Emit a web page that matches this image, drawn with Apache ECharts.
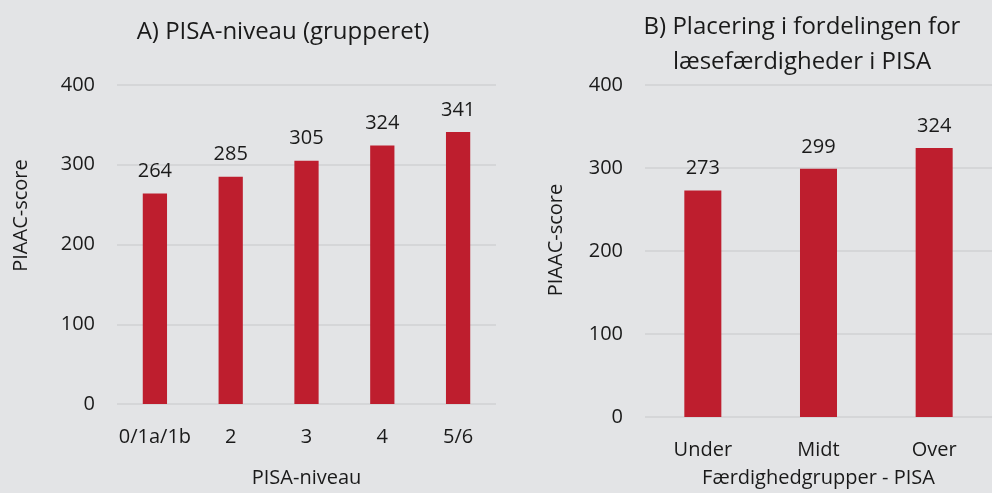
<!DOCTYPE html>
<html>
<head>
<meta charset="utf-8">
<script src="https://cdn.jsdelivr.net/npm/echarts@6/dist/echarts.min.js"></script>
<style>
  html, body { margin: 0; padding: 0; background: #e3e4e6; }
  #chart { width: 992px; height: 493px; }
</style>
</head>
<body>
<div id="chart"></div>
<script>
// panel A: PISA level (grouped)
const levelsA = ['0/1a/1b', '2', '3', '4', '5/6'];
const scoresA = [264, 285, 305, 324, 341];
// panel B: placement in reading distribution
const groupsB = ['Under', 'Midt', 'Over'];
const scoresB = [273, 299, 324];

const barColor = '#be1e2e';
const textColor = '#1a1a1a';
const font = 'Open Sans';

const chart = echarts.init(document.getElementById('chart'));

function yAxisFor(idx, gap, pad) {
    return {
        gridIndex: idx,
        type: 'value',
        min: 0,
        max: 400,
        interval: 100,
        name: 'PIAAC-score',
        nameLocation: 'middle',
        nameGap: gap,
        nameTextStyle: { fontSize: 20, color: textColor, fontFamily: font, padding: [0, 0, 0, pad] },
        axisLine: { show: false },
        axisTick: { show: false },
        axisLabel: { fontSize: 20, color: textColor, fontFamily: font, margin: 22 },
        splitLine: { lineStyle: { color: '#d5d6d8', width: 2 } }
    };
}

function xAxisFor(idx, cats, name, gap) {
    return {
        gridIndex: idx,
        type: 'category',
        data: cats,
        name: name,
        nameLocation: 'middle',
        nameGap: gap,
        nameTextStyle: { fontSize: 20, color: textColor, fontFamily: font },
        axisLine: { show: false },
        axisTick: { show: false },
        axisLabel: { interval: 0, fontSize: 20, color: textColor, fontFamily: font, margin: 23 }
    };
}

function barSeries(idx, vals) {
    return {
        type: 'bar',
        xAxisIndex: idx,
        yAxisIndex: idx,
        data: vals,
        barWidth: '32%',
        itemStyle: { color: barColor },
        label: {
            show: true,
            position: 'top',
            distance: 12,
            fontSize: 20,
            color: textColor,
            fontFamily: font
        }
    };
}

const option = {
    backgroundColor: '#e3e4e6',
    animation: false,
    title: [{
        text: 'A) PISA-niveau (grupperet)',
        left: 278,
        top: 12,
        textAlign: 'center',
        textStyle: { fontSize: 24, fontWeight: 'normal', color: textColor, fontFamily: font, lineHeight: 30 }
    }, {
        text: 'B) Placering i fordelingen for\nlæsefærdigheder i PISA',
        left: 797,
        top: 5,
        textAlign: 'center',
        textStyle: { fontSize: 24, fontWeight: 'normal', color: textColor, fontFamily: font, lineHeight: 35 }
    }],
    grid: [
        { left: 117, top: 85, width: 379, height: 320 },
        { left: 645, top: 85, width: 359, height: 333 }
    ],
    xAxis: [
        xAxisFor(0, levelsA, 'PISA-niveau', 64),
        xAxisFor(1, groupsB, 'Færdighedgrupper - PISA', 51)
    ],
    yAxis: [
        yAxisFor(0, 86, 58),
        yAxisFor(1, 79, 22)
    ],
    series: [
        barSeries(0, scoresA),
        barSeries(1, scoresB)
    ]
};

chart.setOption(option);
</script>
</body>
</html>
